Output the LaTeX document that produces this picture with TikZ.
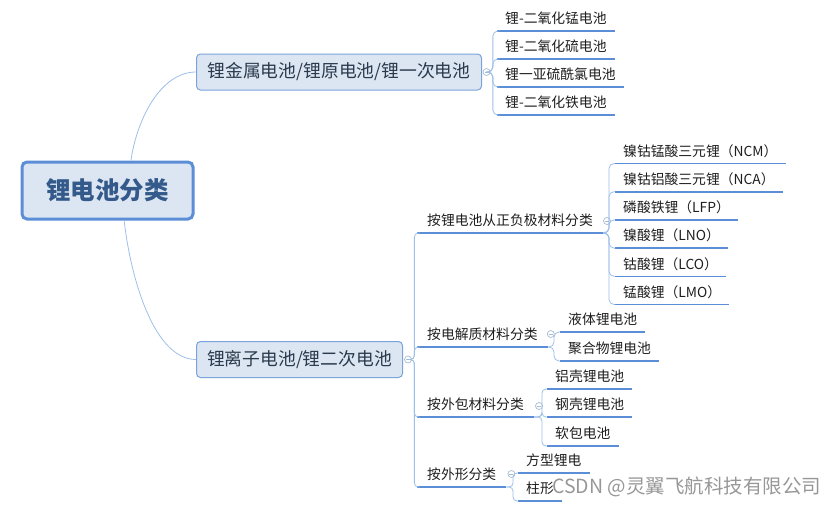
\documentclass[tikz,border=0pt]{standalone}
\usepackage{fontspec}
\setmainfont{Noto Sans CJK SC}
\usetikzlibrary{calc}
\definecolor{connc}{HTML}{9DBFE9}
\definecolor{ulinec}{HTML}{5B8ED6}
\definecolor{boxfill}{HTML}{DCE6F2}
\definecolor{boxline}{HTML}{7BA3DB}
\definecolor{rootline}{HTML}{5B8ED6}
\definecolor{roottext}{HTML}{335A8A}
\definecolor{topictext}{HTML}{2A3A4C}
\definecolor{leaftext}{HTML}{1E1E1E}
\definecolor{markc}{HTML}{A7BBD3}
\definecolor{wmc}{HTML}{8C8C8C}
\begin{document}
\begin{tikzpicture}[x=1pt,y=-1pt,
  rootbox/.style={draw=rootline, line width=3pt, fill=boxfill, rounded corners=5pt,
    minimum width=171pt, minimum height=57pt, inner sep=0pt,
    font=\fontsize{24.5}{28}\selectfont\bfseries, text=roottext},
  topicbox/.style={draw=boxline, line width=1pt, fill=boxfill, rounded corners=4pt,
    minimum height=36pt, inner xsep=10pt, inner ysep=0pt,
    font=\fontsize{17.8}{20}\selectfont, text=topictext},
  leaf/.style={anchor=south west, inner xsep=8pt, inner ysep=0pt, text depth=7pt,
    font=\fontsize{13.8}{16}\selectfont, text=leaftext},
  subtopic/.style={leaf, inner xsep=10pt},
  collapse/.style={circle, draw=markc, fill=white, line width=0.7pt, minimum size=7pt, inner sep=0pt},
  conn/.style={draw=connc, line width=0.8pt},
  uline/.style={draw=ulinec, line width=1.6pt},
]
\useasboundingbox (0,0) rectangle (831,507);

% root and main topics
\node[rootbox] (root) at (107.5,190.5) {锂电池分类};
\node[topicbox, anchor=west, minimum width=285pt] (n1) at (196,72) {锂金属电池/锂原电池/锂一次电池};
\node[topicbox, anchor=west, minimum width=206pt] (n2) at (196,359.5) {锂离子电池/锂二次电池};

\draw[conn] (root.52) .. controls +(6,-42) and +(-35,0) .. (n1.west);
\draw[conn] (root.-61.5) .. controls +(7,61) and +(-41,0) .. (n2.west);

% children of n1
\node[leaf] (a1) at (497,31) {锂-二氧化锰电池};
\node[leaf] (a2) at (497,59) {锂-二氧化硫电池};
\node[leaf] (a3) at (497,87) {锂一亚硫酰氯电池};
\node[leaf] (a4) at (497,115) {锂-二氧化铁电池};

% children of n2
\node[subtopic] (b1) at (417,233) {按锂电池从正负极材料分类};
\node[subtopic] (b2) at (417,347) {按电解质材料分类};
\node[subtopic] (b3) at (417,417) {按外包材料分类};
\node[subtopic] (b4) at (417,487) {按外形分类};

% children of b1
\node[leaf] (c1) at (615,163.5) {镍钴锰酸三元锂（NCM）};
\node[leaf] (c2) at (615,191.7) {镍钴铝酸三元锂（NCA）};
\node[leaf] (c3) at (615,219.9) {磷酸铁锂（LFP）};
\node[leaf] (c4) at (615,248.1) {镍酸锂（LNO）};
\node[leaf] (c5) at (615,276.3) {钴酸锂（LCO）};
\node[leaf] (c6) at (615,304.5) {锰酸锂（LMO）};

% children of b2
\node[leaf] (d1) at (560,332) {液体锂电池};
\node[leaf] (d2) at (560,361) {聚合物锂电池};

% children of b3
\node[leaf] (e1) at (547,389) {铝壳锂电池};
\node[leaf] (e2) at (547,417) {钢壳锂电池};
\node[leaf] (e3) at (547,446) {软包电池};

% children of b4
\node[leaf] (f1) at (518,473) {方型锂电};
\node[leaf] (f2) at (518,501) {柱形};

% underlines
\foreach \n in {a1,a2,a3,a4,b1,b2,b3,b4,c1,c2,c3,c4,c5,c6,d1,d2,e1,e2,e3,f1,f2}
  \draw[uline] (\n.south west) -- (\n.south east);

% collapse markers
\node[collapse] (m1) at ($(n1.east)+(4.5,0)$) {};
\node[collapse] (m2) at ($(n2.east)+(5,0)$) {};
\node[collapse] (mb1) at ($(b1.south east)+(4,-12)$) {};
\node[collapse] (mb2) at ($(b2.south east)+(3,-13)$) {};
\node[collapse] (mb3) at ($(b3.south east)+(5,-11)$) {};
\node[collapse] (mb4) at ($(b4.south east)+(5,-13)$) {};
\foreach \m in {m1,m2,mb1,mb2,mb3,mb4}
  \draw[draw=markc, line width=0.6pt] ($(\m.center)+(-2,0)$) -- ($(\m.center)+(2,0)$);

% branch junctions
\coordinate (j1) at ($(m1.east)+(2.5,0)$);
\coordinate (j2) at ($(m2.east)+(2.5,0)$);
\coordinate (jb1) at (609,233);
\coordinate (jb2) at (554,347);
\coordinate (jb3) at (542,417);
\coordinate (jb4) at (513,487);

\foreach \c in {a1,a2,a3,a4}
  \draw[conn, rounded corners=5pt] (m1.east) -- (j1) |- (\c.south west);
\foreach \c in {b1,b2,b3,b4}
  \draw[conn, rounded corners=4pt] (m2.east) -- (j2) |- (\c.south west);
\foreach \c in {c1,c2,c3,c4,c5,c6}
  \draw[conn, rounded corners=5pt] (b1.south east) -- (jb1) |- (\c.south west);
\foreach \c in {d1,d2}
  \draw[conn, rounded corners=5pt] (b2.south east) -- (jb2) |- (\c.south west);
\foreach \c in {e1,e2,e3}
  \draw[conn, rounded corners=4pt] (b3.south east) -- (jb3) |- (\c.south west);
\foreach \c in {f1,f2}
  \draw[conn, rounded corners=4pt] (b4.south east) -- (jb4) |- (\c.south west);

% watermark
\node[anchor=west, inner sep=0pt, font=\fontsize{19.5}{22}\selectfont, text=wmc, opacity=0.9] (wm) at (552,487) {CSDN @灵翼飞航科技有限公司};
\end{tikzpicture}
\end{document}
